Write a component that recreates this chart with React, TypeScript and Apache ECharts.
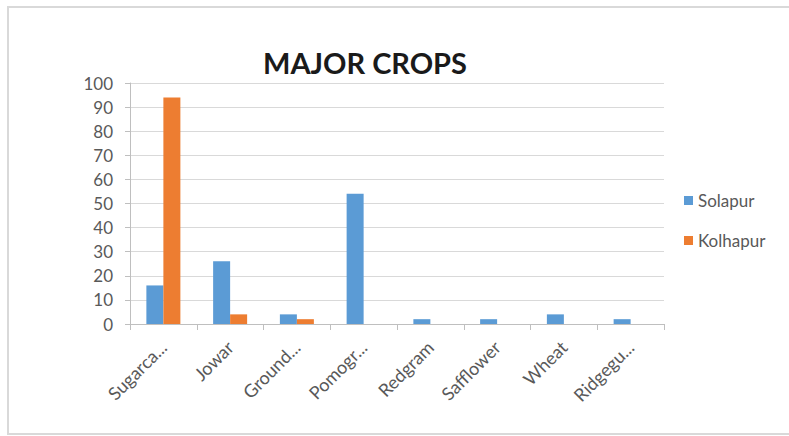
import React, { useEffect, useRef } from "react";
import * as echarts from "echarts";

const categories = ["Sugarca...", "Jowar", "Ground...", "Pomogr...", "Redgram", "Safflower", "Wheat", "Ridgegu..."];
const solapur = [16, 26, 4, 54, 2, 2, 4, 2];
const kolhapur = [94, 4, 2, 0, 0, 0, 0, 0];
const seriesNames = ["Solapur", "Kolhapur"];
const titleText = "MAJOR CROPS";

export default function App() {
  const ref = useRef<HTMLDivElement>(null);
  useEffect(() => {
    if (!ref.current) return;
    const chart = echarts.init(ref.current, null, { renderer: "svg" });
    const font = "Lato, 'Open Sans', sans-serif";
    chart.setOption({
      animation: false,
      backgroundColor: "#ffffff",
      textStyle: { fontFamily: font },
      graphic: [
        {
          type: "rect",
          shape: { x: 8, y: 7, width: 800, height: 427 },
          style: { fill: "none", stroke: "#d9d9d9", lineWidth: 2 },
          silent: true,
        },
      ],
      title: {
        text: titleText,
        left: 360,
        textAlign: "center",
        top: 43,
        textStyle: { fontFamily: font, fontSize: 29, fontWeight: "bold", color: "#1a1a1a" },
      },
      legend: {
        orient: "vertical",
        left: 679,
        top: 187,
        itemWidth: 9,
        itemHeight: 9,
        itemGap: 23,
        icon: "rect",
        data: seriesNames,
        textStyle: { fontFamily: font, fontSize: 17, color: "#595959" },
      },
      grid: { left: 130, right: 125, top: 83, bottom: 112, containLabel: false },
      xAxis: {
        type: "category",
        data: categories,
        boundaryGap: true,
        axisLine: { lineStyle: { color: "#bfbfbf", width: 1 } },
        axisTick: { show: true, length: 6, lineStyle: { color: "#bfbfbf" } },
        axisLabel: { rotate: 45, fontSize: 18, color: "#595959", margin: 20, interval: 0, fontFamily: font },
      },
      yAxis: {
        type: "value",
        min: 0,
        max: 100,
        interval: 10,
        axisLine: { show: true, lineStyle: { color: "#bfbfbf" } },
        axisTick: { show: true, length: 5, lineStyle: { color: "#bfbfbf" } },
        axisLabel: { fontSize: 17, color: "#595959", margin: 17, fontFamily: font },
        splitLine: { lineStyle: { color: "#d9d9d9", width: 1 } },
      },
      series: [
        {
          name: seriesNames[0],
          type: "bar",
          data: solapur,
          barWidth: 17,
          barGap: "0%",
          itemStyle: { color: "#5b9bd5" },
        },
        {
          name: seriesNames[1],
          type: "bar",
          data: kolhapur,
          barWidth: 17,
          barGap: "0%",
          itemStyle: { color: "#ed7d31" },
        },
      ],
    });
    return () => chart.dispose();
  }, []);
  return (
    <div
      ref={ref}
      style={{ position: "fixed", left: 0, top: 0, width: 789, height: 436 }}
    />
  );
}
